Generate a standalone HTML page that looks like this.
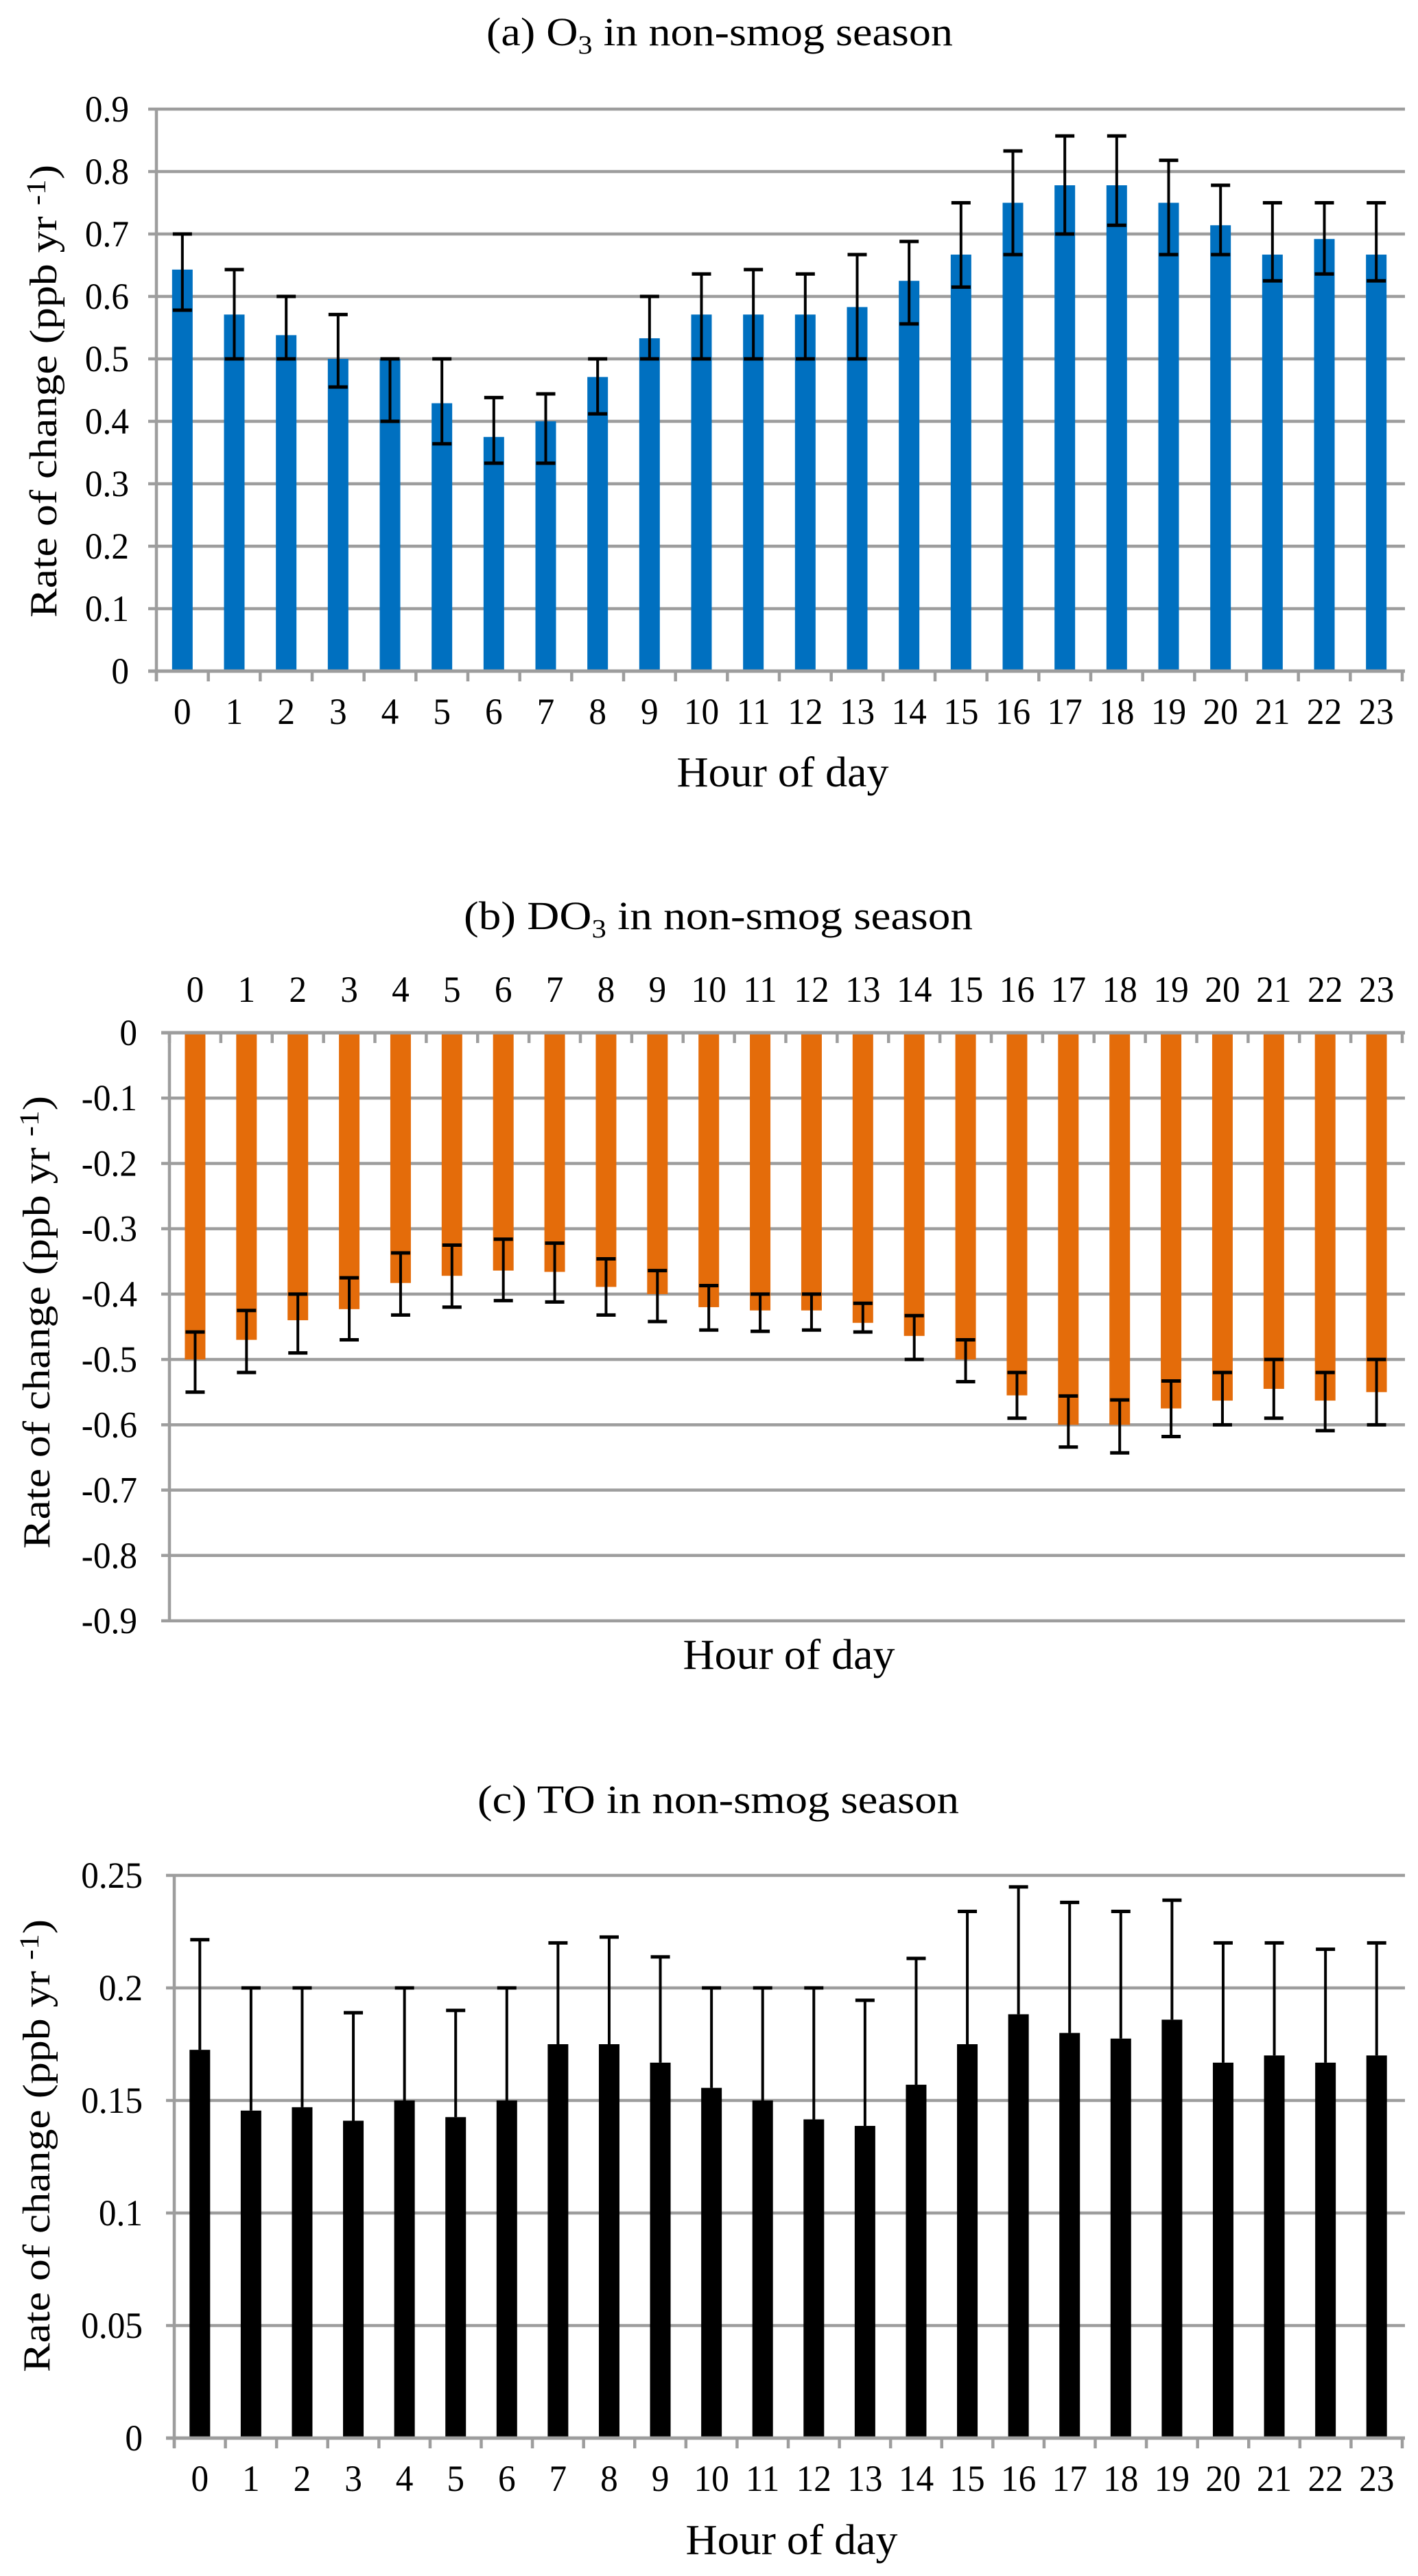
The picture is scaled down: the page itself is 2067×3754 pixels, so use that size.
<!DOCTYPE html>
<html><head><meta charset="utf-8">
<style>
html,body{margin:0;padding:0;background:#fff;}
svg{display:block;}
text{font-family:"Liberation Serif","Times New Roman",serif;fill:#000;}
</style></head>
<body>
<svg id="fig" width="2067" height="3754" viewBox="0 0 2067 3754" xmlns="http://www.w3.org/2000/svg"></svg>
<script>
// ---------- shared categories ----------
const hours = ["0","1","2","3","4","5","6","7","8","9","10","11","12","13","14","15","16","17","18","19","20","21","22","23"];

// ---------- chart (a) O3 ----------
const o3Values = [0.643,0.571,0.538,0.500,0.500,0.429,0.375,0.400,0.471,0.533,0.571,0.571,0.571,0.583,0.625,0.667,0.750,0.778,0.778,0.750,0.714,0.667,0.692,0.667];
const o3Upper  = [0.700,0.643,0.600,0.571,0.500,0.500,0.438,0.444,0.500,0.600,0.636,0.643,0.636,0.667,0.688,0.750,0.833,0.857,0.857,0.818,0.778,0.750,0.750,0.750];
const o3Lower  = [0.578,0.500,0.500,0.455,0.400,0.364,0.333,0.333,0.412,0.500,0.500,0.500,0.500,0.500,0.556,0.615,0.667,0.700,0.714,0.667,0.667,0.625,0.636,0.625];
const o3Ticks  = [0,0.1,0.2,0.3,0.4,0.5,0.6,0.7,0.8,0.9];
const o3TickLabels = ["0","0.1","0.2","0.3","0.4","0.5","0.6","0.7","0.8","0.9"];

// ---------- chart (b) DO3 ----------
const do3Values = [-0.500,-0.470,-0.440,-0.423,-0.383,-0.372,-0.364,-0.366,-0.389,-0.400,-0.420,-0.425,-0.425,-0.444,-0.464,-0.500,-0.555,-0.600,-0.600,-0.575,-0.563,-0.545,-0.563,-0.550];
const do3Upper  = [-0.458,-0.425,-0.400,-0.375,-0.337,-0.325,-0.316,-0.322,-0.346,-0.364,-0.387,-0.400,-0.400,-0.414,-0.433,-0.470,-0.520,-0.556,-0.562,-0.533,-0.520,-0.500,-0.520,-0.500];
const do3Lower  = [-0.550,-0.520,-0.490,-0.470,-0.432,-0.420,-0.410,-0.412,-0.432,-0.442,-0.455,-0.457,-0.455,-0.458,-0.500,-0.534,-0.590,-0.634,-0.643,-0.618,-0.600,-0.590,-0.609,-0.600];
const do3Ticks  = [0,-0.1,-0.2,-0.3,-0.4,-0.5,-0.6,-0.7,-0.8,-0.9];
const do3TickLabels = ["0","-0.1","-0.2","-0.3","-0.4","-0.5","-0.6","-0.7","-0.8","-0.9"];

// ---------- chart (c) TO ----------
const toValues = [0.1725,0.1455,0.147,0.141,0.150,0.1426,0.150,0.175,0.175,0.1668,0.1556,0.150,0.1416,0.1387,0.157,0.175,0.1883,0.180,0.1775,0.1859,0.1668,0.170,0.1668,0.170];
const toUpper  = [0.2214,0.200,0.200,0.189,0.200,0.190,0.200,0.220,0.2226,0.2138,0.200,0.200,0.200,0.1945,0.2131,0.234,0.2449,0.238,0.234,0.239,0.220,0.220,0.2172,0.220];
const toTicks  = [0,0.05,0.1,0.15,0.2,0.25];
const toTickLabels = ["0","0.05","0.1","0.15","0.2","0.25"];

const NS = "http://www.w3.org/2000/svg";
const svg = document.getElementById("fig");
function mk(tag, attrs, parent){
  const e = document.createElementNS(NS, tag);
  for (const k in attrs) e.setAttribute(k, attrs[k]);
  (parent||svg).appendChild(e);
  return e;
}
const GRID = "#9d9d9d";

function drawChart(cfg){
  const g = mk("g", {});
  
  
  const L = cfg.left, R = cfg.right;
  const n = hours.length, step = (R - L) / n;
  const y = v => cfg.y0 + (v - cfg.v0) * (cfg.y1 - cfg.y0) / (cfg.v1 - cfg.v0);
  const xc = i => L + step * (i + 0.5);

  const t = mk("text", {x: cfg.titleX, y: cfg.titleY, "text-anchor": "middle", "font-size": 58, textLength: cfg.titleW, lengthAdjust: "spacingAndGlyphs"}, g);
  
  
  cfg.title.forEach(p => {
    const ts = mk("tspan", p.sub ? {"font-size": 38, dy: 12} : (p.after ? {dy: -12} : {}), t);
    ts.textContent = p.t;
  });

  cfg.ticks.forEach((v, i) => {
    if (v === cfg.axisValue) return;
    const gl = mk("line", {x1: L - 12, x2: R + 4, y1: y(v), y2: y(v), stroke: GRID, "stroke-width": 4.5}, g);
    
    
  });
  cfg.ticks.forEach((v, i) => {
    const tl = mk("text", {transform: `translate(${cfg.labelRight},${y(v) + 18}) scale(0.95,1)`, "text-anchor": "end", "font-size": 54}, g);
    
    
    tl.textContent = cfg.tickLabels[i];
  });

  cfg.values.forEach((v, i) => {
    const a = y(0), b = y(v);
    const bar = mk("rect", {x: xc(i) - 15, y: Math.min(a, b), width: 30, height: Math.abs(b - a), fill: cfg.color}, g);
    
    
  });
  cfg.values.forEach((v, i) => {
    const hi = cfg.upper ? cfg.upper[i] : v;
    const lo = cfg.lower ? cfg.lower[i] : v;
    const eg = mk("g", {stroke: "#000"}, g);
    
    
    mk("line", {x1: xc(i), x2: xc(i), y1: y(hi), y2: y(lo), "stroke-width": 4}, eg);
    if (cfg.upper) mk("line", {x1: xc(i) - 14, x2: xc(i) + 14, y1: y(hi), y2: y(hi), "stroke-width": 5}, eg);
    if (cfg.lower) mk("line", {x1: xc(i) - 14, x2: xc(i) + 14, y1: y(lo), y2: y(lo), "stroke-width": 5}, eg);
  });

  const ax = mk("line", {x1: L, x2: L, y1: y(cfg.v1), y2: y(cfg.v0) + (cfg.tickDir > 0 ? 14 : 0), stroke: GRID, "stroke-width": 4.5}, g);
  
  
  const ya = y(cfg.axisValue);
  const xa = mk("line", {x1: L - 12, x2: R + 4, y1: ya, y2: ya, stroke: GRID, "stroke-width": 5}, g);
  
  
  for (let i = 0; i <= n; i++) {
    const tk = mk("line", {x1: L + step * i, x2: L + step * i, y1: ya, y2: ya + 15, stroke: GRID, "stroke-width": 4.5}, g);
    
    
  }
  hours.forEach((h, i) => {
    const xl = mk("text", {transform: `translate(${xc(i)},${cfg.xLabelY}) scale(0.95,1)`, "text-anchor": "middle", "font-size": 54}, g);
    
    
    xl.textContent = h;
  });
  const xt = mk("text", {x: cfg.xTitleX, y: cfg.xTitleY, "text-anchor": "middle", "font-size": 62, textLength: 309, lengthAdjust: "spacingAndGlyphs"}, g);
  
  
  xt.textContent = "Hour of day";
  const yt = mk("text", {transform: `translate(${cfg.yTitleX},${cfg.yTitleC}) rotate(-90)`, "text-anchor": "middle", "font-size": 56, textLength: 660, lengthAdjust: "spacingAndGlyphs"}, g);
  
  
  const s1 = mk("tspan", {}, yt); s1.textContent = "Rate of change (ppb yr ";
  const s2 = mk("tspan", {dy: -16, "font-size": 40}, yt); s2.textContent = "-1";
  const s3 = mk("tspan", {dy: 16}, yt); s3.textContent = ")";
}

drawChart({name: "chart-a-o3", left: 228, right: 2044, v0: 0, v1: 0.9, y0: 978, y1: 159, axisValue: 0, tickDir: 1,
  ticks: o3Ticks, tickLabels: o3TickLabels, values: o3Values, upper: o3Upper, lower: o3Lower, color: "#0070c0",
  labelRight: 188, xLabelY: 1055, xTitleX: 1141, xTitleY: 1146, yTitleX: 82, yTitleC: 570,
  title: [{t: "(a) O"}, {t: "3", sub: true}, {t: " in non-smog season", after: true}], titleX: 1049, titleY: 66, titleW: 680});

drawChart({name: "chart-b-do3", left: 247, right: 2044, v0: 0, v1: -0.9, y0: 1505, y1: 2362, axisValue: 0, tickDir: 0,
  ticks: do3Ticks, tickLabels: do3TickLabels, values: do3Values, upper: do3Upper, lower: do3Lower, color: "#e46c0a",
  labelRight: 200, xLabelY: 1460, xTitleX: 1150, xTitleY: 2432, yTitleX: 72, yTitleC: 1927,
  title: [{t: "(b) DO"}, {t: "3", sub: true}, {t: "  in non-smog season", after: true}], titleX: 1047, titleY: 1354, titleW: 742});

drawChart({name: "chart-c-to", left: 254, right: 2044, v0: 0, v1: 0.25, y0: 3553, y1: 2733, axisValue: 0, tickDir: 1,
  ticks: toTicks, tickLabels: toTickLabels, values: toValues, upper: toUpper, lower: null, color: "#000000",
  labelRight: 208, xLabelY: 3630, xTitleX: 1154, xTitleY: 3722, yTitleX: 72, yTitleC: 3127,
  title: [{t: "(c) TO in non-smog season"}], titleX: 1047, titleY: 2642, titleW: 702});
</script>
</body></html>
